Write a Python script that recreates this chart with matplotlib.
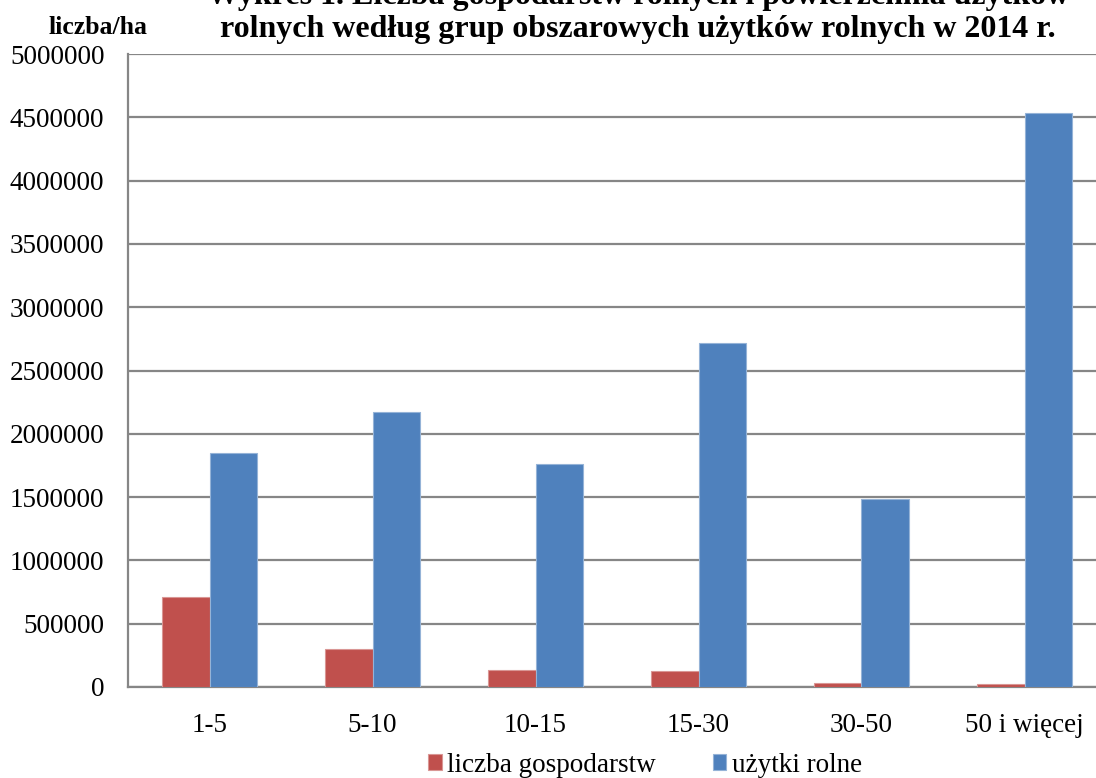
import matplotlib
matplotlib.use('Agg')
import matplotlib.pyplot as plt
import numpy as np

grupy = ['1-5', '5-10', '10-15', '15-30', '30-50', '50 i więcej']
liczba_gosp = [712000, 302000, 138000, 127000, 32000, 23000]
uzytki = [1845000, 2176000, 1764000, 2714000, 1487000, 4533000]
yticks = np.arange(0, 5000001, 500000)

plt.rcParams['font.family'] = ['Liberation Serif', 'DejaVu Serif']

W, H = 1096, 778
fig = plt.figure(figsize=(W / 100, H / 100), dpi=100)
# plot area: x 128..1106 (clipped at right), y 54..687
ax = fig.add_axes([128 / W, 1 - 687 / H, 978 / W, (687 - 54) / H])

x = np.arange(len(grupy))
w = 0.29
ax.bar(x - w / 2, liczba_gosp, w, color='#c0504d', edgecolor='#d99694',
       linewidth=0.8, label='liczba gospodarstw', zorder=3)
ax.bar(x + w / 2, uzytki, w, color='#4f81bd', edgecolor='#95b3d7',
       linewidth=0.8, label='użytki rolne', zorder=3)

ax.set_xlim(-0.5, len(grupy) - 0.5)
ax.set_ylim(0, 5000000)
ax.set_yticks(yticks)
ax.set_yticklabels([str(v) for v in yticks])
ax.set_xticks(x)
ax.set_xticklabels(grupy)
ax.tick_params(axis='both', length=0, labelsize=19.5)
ax.tick_params(axis='y', pad=17)
ax.tick_params(axis='x', pad=19)
ax.yaxis.grid(True, color='#868686', linewidth=1.6, zorder=0)

for s in ['top', 'right']:
    ax.spines[s].set_visible(False)
for s in ['left', 'bottom']:
    ax.spines[s].set_color('#868686')
    ax.spines[s].set_linewidth(1.6)

fig.text(638 / W, 1 - (-3) / H, 'Wykres 1. Liczba gospodarstw rolnych i powierzchnia użytków',
         ha='center', va='center', fontsize=23, fontweight='bold')
fig.text(638 / W, 1 - 29 / H, 'rolnych według grup obszarowych użytków rolnych w 2014 r.',
         ha='center', va='center', fontsize=23, fontweight='bold')
fig.text(98 / W, 1 - 28 / H, 'liczba/ha', ha='center', va='center',
         fontsize=18.5, fontweight='bold')

fig.legend(loc='center', bbox_to_anchor=(645 / W, 1 - 765 / H), ncol=2,
           frameon=False, fontsize=19.5, handlelength=0.5, handleheight=0.5,
           handletextpad=0.2, columnspacing=2.1, borderaxespad=0)

fig.savefig('out.png', dpi=100)
